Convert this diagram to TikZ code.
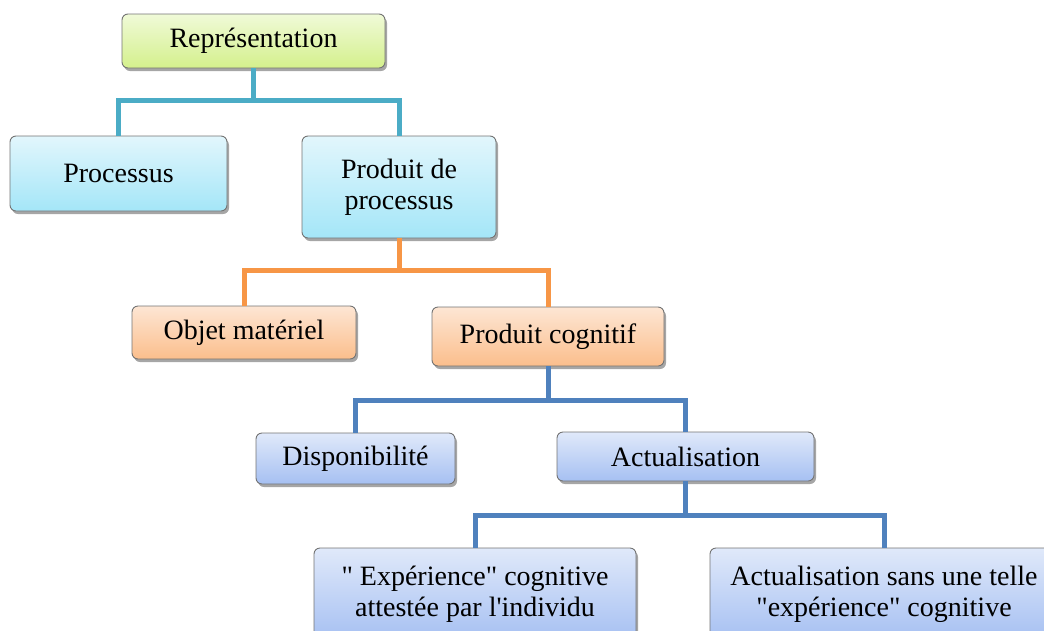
\documentclass[tikz,border=0pt]{standalone}
\usepackage{fontspec}
\setmainfont{Liberation Serif}[Ligatures=TeXOff]
\usetikzlibrary{shadows}
\definecolor{cTeal}{HTML}{4BACC6}
\definecolor{cOrange}{HTML}{F79646}
\definecolor{cSteel}{HTML}{4F81BD}
\tikzset{
  boxbase/.style={draw=black!55, line width=0.9pt, rounded corners=6pt, align=center,
    font=\fontsize{28}{31}\selectfont, inner sep=2pt,
    drop shadow={shadow xshift=2pt, shadow yshift=-3pt, opacity=0.35, fill=black}},
  greenbox/.style={boxbase, top color={rgb,255:red,240;green,250;blue,216}, bottom color={rgb,255:red,212;green,240;blue,140}},
  cyanbox/.style={boxbase, top color={rgb,255:red,226;green,246;blue,252}, bottom color={rgb,255:red,164;green,230;blue,248}},
  orangebox/.style={boxbase, top color={rgb,255:red,253;green,230;blue,212}, bottom color={rgb,255:red,251;green,190;blue,140}},
  bluebox/.style={boxbase, top color={rgb,255:red,224;green,233;blue,250}, bottom color={rgb,255:red,166;green,192;blue,242}},
  conn/.style={line width=5pt, line join=miter},
}
\begin{document}
\begin{tikzpicture}[x=1pt,y=-1pt]
\useasboundingbox (0,0) rectangle (1044,630);
\clip (0,0) rectangle (1044,630);

% level 0
\node[greenbox, minimum width=263pt, minimum height=54pt] (rep) at (253.5,41) {Représentation};
% level 1
\node[cyanbox, minimum width=217pt, minimum height=75pt] (proc) at (118.5,173.5) {Processus};
\node[cyanbox, minimum width=194pt, minimum height=102pt] (prod) at (399,187) {Produit de\\processus};
% level 2
\node[orangebox, minimum width=224pt, minimum height=53pt] (obj) at (244,332.5) {Objet matériel};
\node[orangebox, minimum width=232pt, minimum height=59pt] (cog) at (548,336.5) {Produit cognitif};
% level 3
\node[bluebox, minimum width=199pt, minimum height=51pt] (disp) at (355.5,458.5) {Disponibilité};
\node[bluebox, minimum width=257pt, minimum height=49pt] (act) at (685.5,456.5) {Actualisation};
% level 4
\node[bluebox, minimum width=322pt, minimum height=92pt] (exp) at (475,594) {" Expérience" cognitive\\attestée par l'individu};
\node[bluebox, minimum width=348pt, minimum height=92pt] (sans) at (884,594) {Actualisation sans une telle\\"expérience" cognitive};

% connectors
\draw[conn, cTeal] (rep.south) -- ++(0,32) coordinate (j1);
\draw[conn, cTeal] (proc.north) |- (j1) -| (prod.north);
\draw[conn, cOrange] (prod.south) -- ++(0,32) coordinate (j2);
\draw[conn, cOrange] (obj.north) |- (j2) -| (cog.north);
\draw[conn, cSteel] (cog.south) -- ++(0,34) coordinate (j3);
\draw[conn, cSteel] (disp.north) |- (j3) -| (act.north);
\draw[conn, cSteel] (act.south) -- ++(0,34) coordinate (j4);
\draw[conn, cSteel] (exp.north) |- (j4) -| (sans.north);
\end{tikzpicture}
\end{document}
